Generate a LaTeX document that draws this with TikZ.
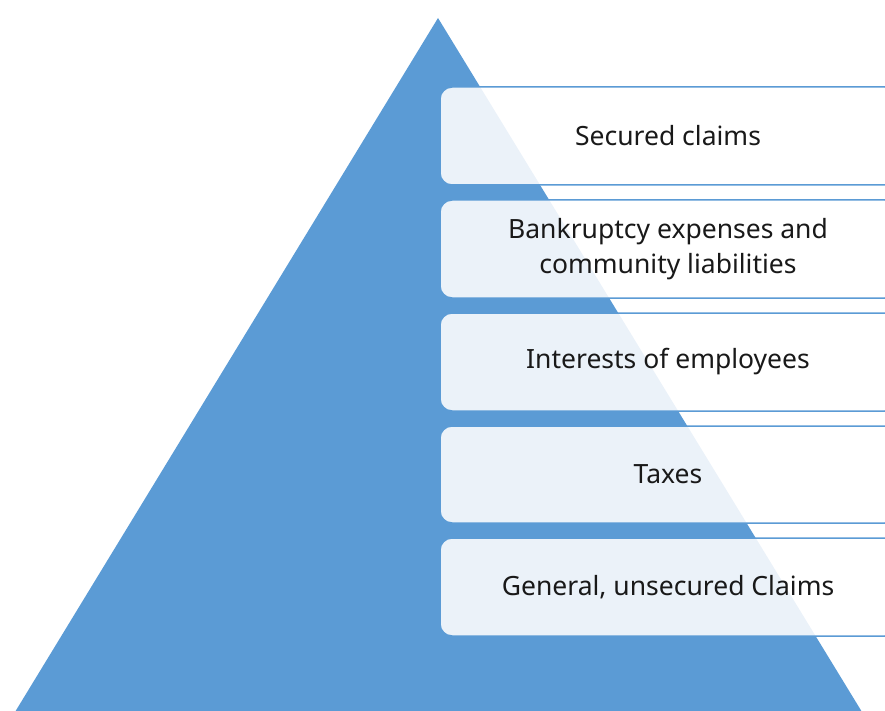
\documentclass[tikz,border=0pt]{standalone}
\usepackage{fontspec}
\setmainfont{Noto Sans}
\definecolor{pblue}{HTML}{5B9BD5}
\begin{document}
\begin{tikzpicture}[x=1pt,y=-1pt,
  tier/.style={draw=pblue, line width=1.5pt, rounded corners=12pt, fill=white, fill opacity=0.88, text opacity=1},
  tiertext/.style={font=\fontsize{26.5}{35}\selectfont, align=center, text=black!90}]
\useasboundingbox (0,0) rectangle (885,711);
\clip (0,0) rectangle (885,711);
\fill[pblue] (438,18) -- (862,712) -- (15,712) -- cycle;
\foreach \t/\b/\n in {87/185/a, 200/298/b, 313/411/c, 426/523/d, 538/636/e}{
  \draw[tier] (440,\t) rectangle (897,\b);
  \coordinate (\n) at (668,{(\t+\b)/2});
}
\node[tiertext] (na) at (a) {Secured claims};
\node[tiertext] (nb) at (b) {Bankruptcy expenses and\\community liabilities};
\node[tiertext] (nc) at (c) {Interests of employees};
\node[tiertext] (nd) at (d) {Taxes};
\node[tiertext] (ne) at (e) {General, unsecured Claims};
\end{tikzpicture}
\end{document}
